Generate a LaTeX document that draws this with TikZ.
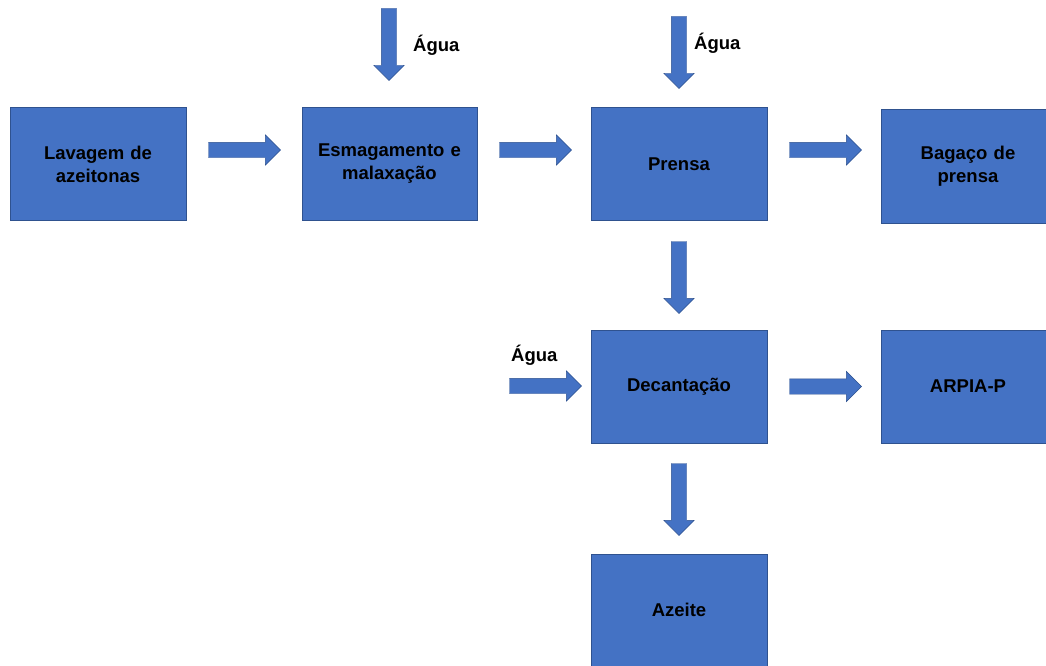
\documentclass[tikz,border=0pt]{standalone}
\usepackage{fontspec}
\setmainfont{Liberation Sans}
\usetikzlibrary{shapes.arrows,calc}
\definecolor{boxfill}{HTML}{4472C4}
\definecolor{boxedge}{HTML}{2F528F}
\begin{document}
\begin{tikzpicture}[x=1pt,y=-1pt,
  procbox/.style={rectangle,fill=boxfill,draw=boxedge,line width=0.9pt,
    minimum width=176pt,minimum height=113pt,inner sep=0pt,outer sep=0pt,
    align=center,text width=160pt,
    font=\fontsize{18.5}{23}\selectfont\bfseries,text=black},
  blockarrow/.style={single arrow,fill=boxfill,draw=boxedge,line width=0.4pt,
    minimum width=30pt,single arrow head extend=7.5pt,minimum height=72pt,
    inner xsep=0pt,inner ysep=7.5pt,outer sep=0pt,anchor=tail},
  down/.style={shape border rotate=270,inner xsep=7.5pt,inner ysep=0pt},
  lbl/.style={font=\fontsize{18.5}{23}\selectfont\bfseries,text=black,inner sep=0pt}]
\useasboundingbox (0,0) rectangle (1046,666);
\clip (0,0) rectangle (1046,666);
% boxes
\node[procbox] (lav) at (98,164) {Lavagem de\\azeitonas};
\node[procbox,minimum width=175pt] (esm) at (389.5,164) {Esmagamento e\\malaxação};
\node[procbox] (pre) at (679,164) {Prensa};
\node[procbox,minimum width=174pt,minimum height=114pt] (bag) at (968,166.5) {Bagaço de\\prensa};
\node[procbox] (dec) at (679,386.5) {Decantação};
\node[procbox,minimum width=174pt] (arp) at (968,386.5) {ARPIA-P};
\node[procbox,minimum height=112pt] (aze) at (679,610) {Azeite};
% arrows
\node[blockarrow] (a1) at ($(lav.east)+(22.5,-14)$) {};
\node[blockarrow] (a2) at ($(esm.east)+(22.5,-14)$) {};
\node[blockarrow] (a3) at ($(pre.east)+(22.5,-14)$) {};
\node[blockarrow,down] (a4) at ($(pre.south)+(0,21)$) {};
\node[blockarrow] (a5) at ($(dec.east)+(22.5,0)$) {};
\node[blockarrow,down] (a6) at ($(dec.south)+(0,20.5)$) {};
% water inputs
\coordinate (w1) at (389,8.5);
\coordinate (w2) at (679,16.5);
\coordinate (w3) at (509.5,386);
\node[blockarrow,down] (aw1) at (w1) {};
\node[blockarrow,down] (aw2) at (w2) {};
\node[blockarrow] (aw3) at (w3) {};
\node[lbl,anchor=west] (l1) at (413,45) {Água};
\node[lbl,anchor=west] (l2) at (694,43) {Água};
\node[lbl,anchor=west] (l3) at (511,355) {Água};
\end{tikzpicture}
\end{document}
